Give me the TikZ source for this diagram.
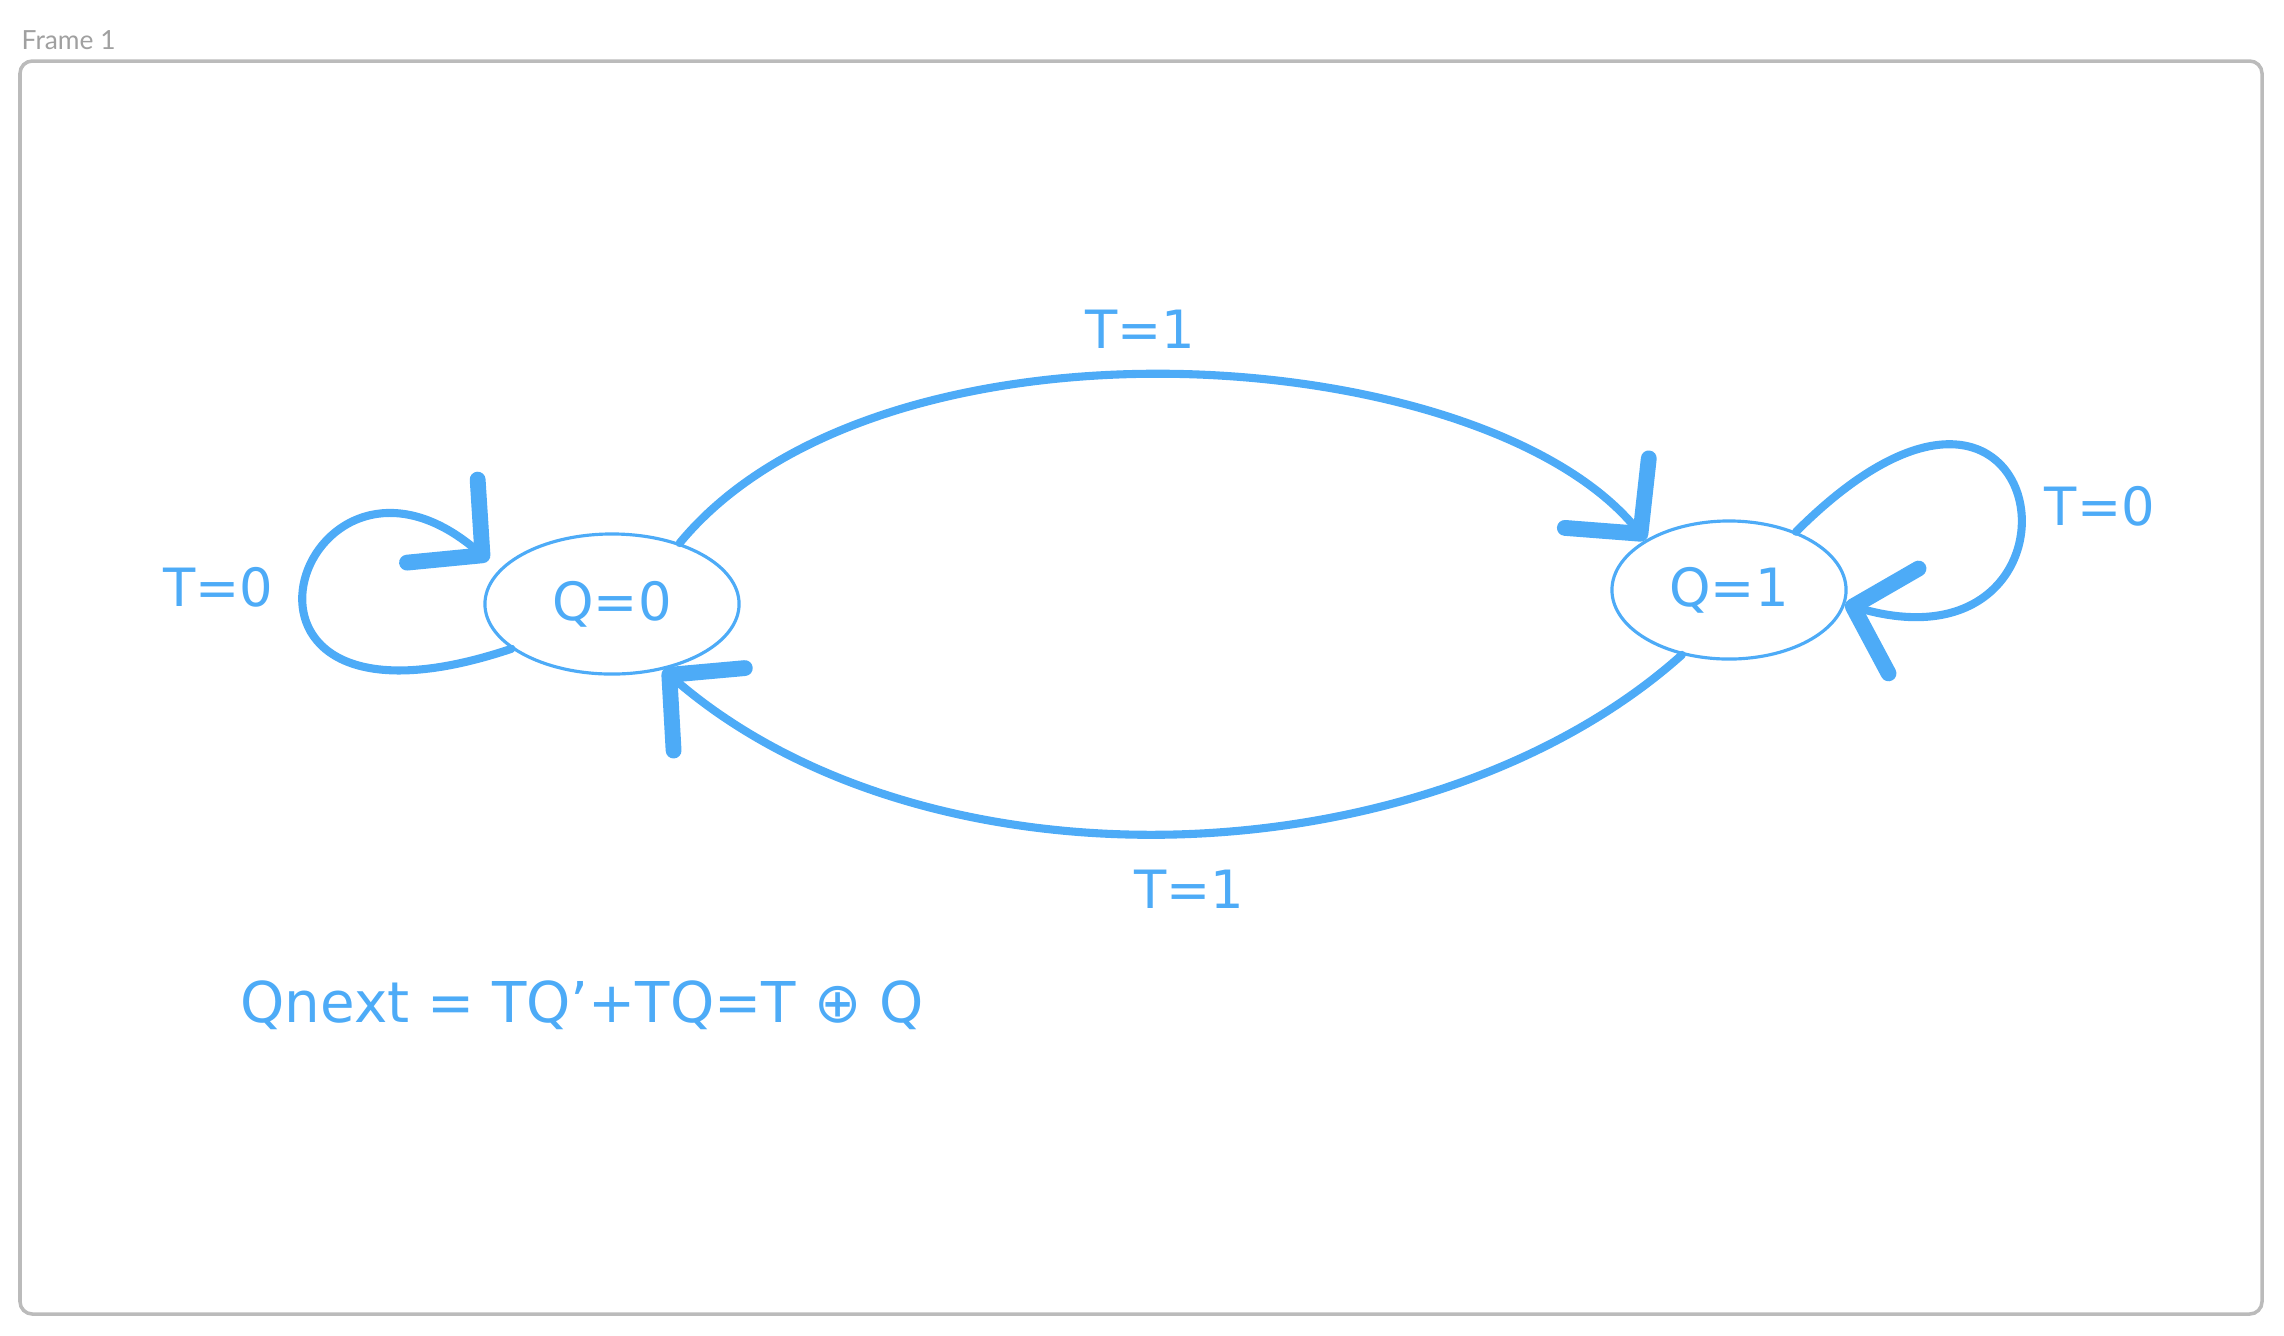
\documentclass[tikz,border=0pt]{standalone}
\usepackage{fontspec}
\setmainfont{DejaVu Sans}
\newfontfamily\framefont{Lato}
\usetikzlibrary{arrows.meta,shapes.geometric}

\definecolor{pen}{HTML}{4DABF7}
\definecolor{framegray}{HTML}{BBBBBB}
\definecolor{titlegray}{HTML}{A0A0A0}

\begin{document}
\begin{tikzpicture}[%
    x=0.01cm,
    y=-0.01cm,
    >={Straight Barb[length=15pt,width=31pt,line width=4.5pt,round]},
    qstate/.style={ellipse, draw=pen, line width=0.9pt, text=pen,
        font=\fontsize{15}{18}\selectfont},
    trans/.style={->, draw=pen, line width=2.3pt, line cap=round},
    lbl/.style={text=pen, font=\fontsize{15}{18}\selectfont}
    ]

    \useasboundingbox (0,0) rectangle (2284,1335);

    % frame
    \draw[framegray, line width=1pt, rounded corners=3.5pt] (20,61) rectangle (2262,1314);
    \node[anchor=base west, inner sep=0, text=titlegray,
        font=\framefont\fontsize{7.5}{9}\selectfont] (frametitle) at (21,49) {Frame 1};

    % states
    \node[qstate, minimum width=2.54cm, minimum height=1.40cm] (q0) at (612,604) {Q=0};
    \node[qstate, minimum width=2.34cm, minimum height=1.38cm] (q1) at (1729,590) {Q=1};

    % transitions
    \draw[trans] (q0.42) .. controls (880,300) and (1480,340)
        .. node[lbl, pos=0.47, above=3pt] (t01) {T=1} (q1.149);
    \draw[trans] (q1.234) .. controls (1430,880) and (930,900)
        .. node[lbl, pos=0.49, below=6pt] (t10) {T=1} (q0.308);
    \draw[trans, shorten >=4pt] (q0.204) .. controls (180,760) and (300,400)
        .. node[lbl, pos=0.5, left=5pt] (t00) {T=0} (q0.163);
    \draw[trans] (q1.41) .. controls (2056,272) and (2110,680)
        .. node[lbl, pos=0.52, right=3pt] (t11) {T=0} (q1.353);

    % equation
    \node[lbl, anchor=west, font=\fontsize{16}{19}\selectfont] (formula) at (228,1005)
        {Qnext = TQ'+TQ=T ⊕ Q};

\end{tikzpicture}
\end{document}
